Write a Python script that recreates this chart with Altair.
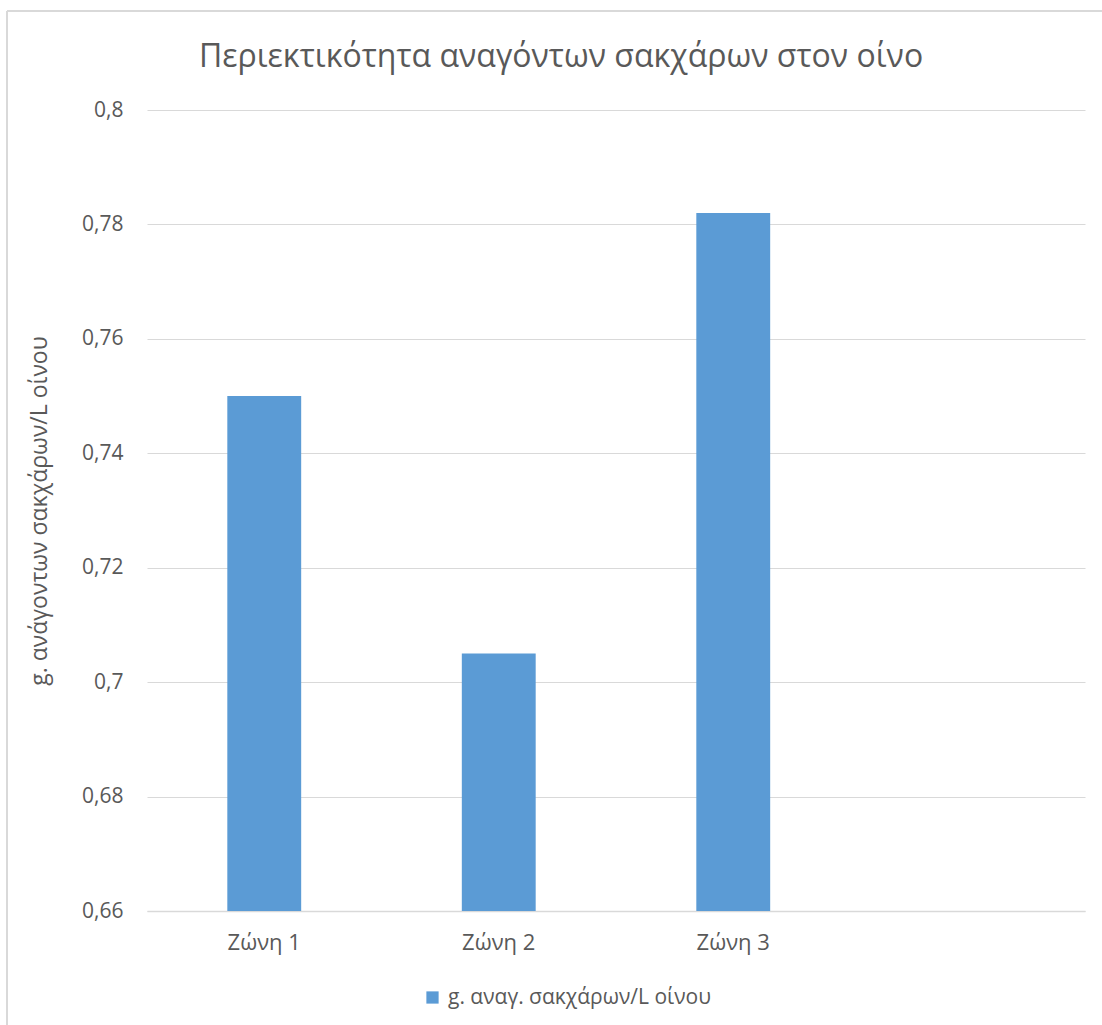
import altair as alt
import pandas as pd

# Reducing sugar content per wine zone
zones = ["Ζώνη 1", "Ζώνη 2", "Ζώνη 3"]
sugar = [0.75, 0.705, 0.782]
series_name = "g. αναγ. σακχάρων/L οίνου"
x_domain = zones + [""]          # trailing empty category slot
y_ticks = [0.66, 0.68, 0.70, 0.72, 0.74, 0.76, 0.78, 0.80]

df = pd.DataFrame({"zone": zones, "value": sugar, "series": [series_name] * len(zones)})

FONT = "Open Sans"
GREY_TEXT = "#595959"
GRID = "#d9d9d9"
W, H = 938, 801
PAD = {"left": 147, "top": 110, "right": 17, "bottom": 114}

bars = alt.Chart(df).mark_bar(color="#5B9BD5").encode(
    x=alt.X(
        "zone:N",
        scale=alt.Scale(domain=x_domain, paddingInner=0.685, paddingOuter=0.3425),
        axis=alt.Axis(
            title=None, labelAngle=0, ticks=False, labelFontSize=22,
            labelColor=GREY_TEXT, labelFont=FONT, labelPadding=21,
            domainColor=GRID, domainWidth=1.5, grid=False,
        ),
    ),
    y=alt.Y(
        "value:Q",
        scale=alt.Scale(domain=[0.66, 0.8], zero=False, nice=False),
        axis=alt.Axis(
            title="g. ανάγοντων σακχάρων/L οίνου", titleFontSize=23,
            titleFont=FONT, titleFontWeight="normal", titleColor=GREY_TEXT,
            titlePadding=30,
            values=y_ticks,
            labelExpr="replace(format(datum.value, '.2~f'), '.', ',')",
            labelFontSize=21, labelColor=GREY_TEXT, labelFont=FONT,
            labelPadding=24, ticks=False, domain=False,
            grid=True, gridColor=GRID, gridWidth=1.2,
        ),
    ),
    y2=alt.datum(0.66),
    color=alt.Color(
        "series:N",
        scale=alt.Scale(range=["#5B9BD5"]),
        legend=alt.Legend(
            title=None, orient="none", legendX=275, legendY=877,
            symbolType="square", symbolSize=150, symbolStrokeWidth=0,
            labelFontSize=21, labelColor=GREY_TEXT, labelFont=FONT,
            labelOffset=5, labelLimit=0,
        ),
    ),
)

# Outer chart-area frame (left and top edges)
frame_left = alt.Chart(df).mark_rule(color=GRID, strokeWidth=2).encode(
    x=alt.value(-140), y=alt.value(-99), y2=alt.value(H + PAD["bottom"])
)
frame_top = alt.Chart(df).mark_rule(color=GRID, strokeWidth=1.5).encode(
    x=alt.value(-140), x2=alt.value(W + PAD["right"]), y=alt.value(-99)
)

chart = alt.layer(frame_left, frame_top, bars).properties(
    width=W, height=H,
    padding=PAD,
    autosize=alt.AutoSizeParams(type="none"),
    title=alt.TitleParams(
        "Περιεκτικότητα αναγόντων σακχάρων στον οίνο",
        fontSize=32, font=FONT, fontWeight="normal", color=GREY_TEXT,
        anchor="middle", dx=-55, offset=-64,
    ),
).configure(
    background="white",
    view=alt.ViewConfig(stroke="transparent", strokeWidth=0),
)

chart.save("out.html", embed_options={"renderer": "svg", "actions": False})
